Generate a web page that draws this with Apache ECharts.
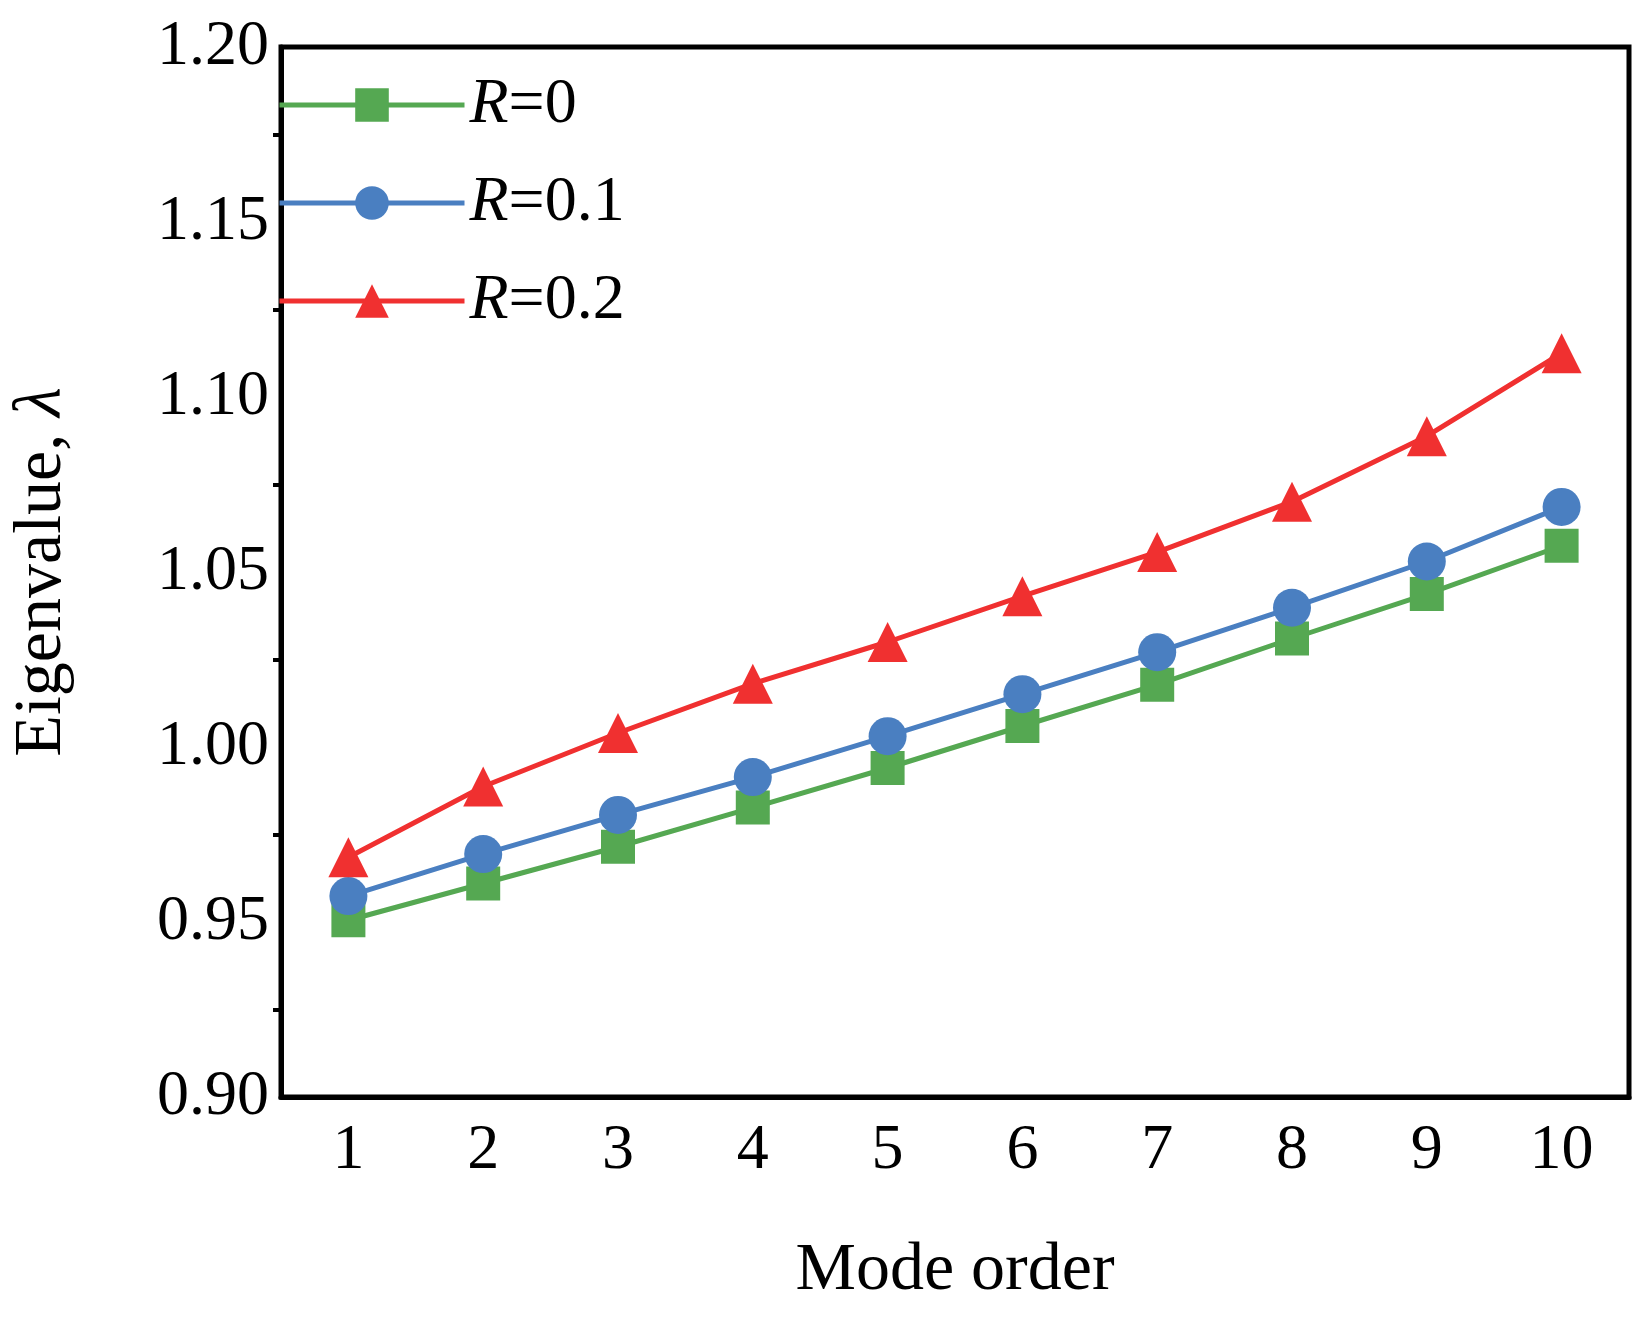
<!DOCTYPE html>
<html><head><meta charset="utf-8">
<script src="https://cdn.jsdelivr.net/npm/echarts@6/dist/echarts.min.js"></script>
<style>html,body{margin:0;background:#fff}#c{width:1649px;height:1341px}</style>
</head><body><div id="c"></div>
<script>
const categories = ['1','2','3','4','5','6','7','8','9','10'];
const r0 = [0.9505,0.961,0.9715,0.9827,0.994,1.006,1.0178,1.031,1.0437,1.0575];
const r01 = [0.9574,0.9694,0.9806,0.9914,1.0031,1.0151,1.0271,1.0398,1.053,1.0686];
const r02 = [0.9685,0.9887,1.004,1.0181,1.030,1.0431,1.0557,1.0701,1.0888,1.1125];
const names = ['R=0','R=0.1','R=0.2'];
const F = 'Liberation Serif';
const chart = echarts.init(document.getElementById('c'));
const mk = (name, data, color, symbol, size) => ({
  name, type:'line', data, symbol, symbolSize:size,
  lineStyle:{color, width:5}, itemStyle:{color}
});
chart.setOption({
  animation:false,
  grid:{left:252, right:20, top:47, bottom:244, show:true, borderColor:'#000', borderWidth:5},
  legend:{
    left:272, top:68, orient:'vertical', itemGap:34, itemWidth:185, itemHeight:42,
    data:names,
    lineStyle:{width:5},
    formatter: n => '{i|R}{t|' + n.slice(1) + '}',
    textStyle:{rich:{
      i:{fontFamily:F, fontStyle:'italic', fontSize:64, color:'#000'},
      t:{fontFamily:F, fontSize:64, color:'#000'}
    }}
  },
  xAxis:{
    type:'category', data:categories, boundaryGap:true,
    name:'Mode order', nameLocation:'middle', nameGap:140,
    nameTextStyle:{fontFamily:F, fontSize:68, color:'#000'},
    axisLine:{lineStyle:{color:'#000', width:5}},
    axisTick:{alignWithLabel:true, length:16, lineStyle:{width:4, color:'#000'}},
    axisLabel:{fontFamily:F, fontSize:64, color:'#000', margin:22}
  },
  yAxis:{
    type:'value', min:0.9, max:1.2, interval:0.05,
    name:'{n|Eigenvalue, }{l|λ}', nameLocation:'middle', nameGap:205,
    nameTextStyle:{fontFamily:F, fontSize:68, color:'#000',
      rich:{n:{fontFamily:F, fontSize:68, color:'#000'}, l:{fontFamily:F, fontStyle:'italic', fontSize:68, color:'#000'}}},
    axisLine:{show:true, lineStyle:{color:'#000', width:5}},
    axisTick:{inside:false, length:14, lineStyle:{width:4, color:'#000'}},
    minorTick:{show:true, splitNumber:2, length:8, lineStyle:{width:4, color:'#000'}},
    splitLine:{show:false},
    axisLabel:{fontFamily:F, fontSize:64, color:'#000', margin:12, formatter:v=>v.toFixed(2)}
  },
  series:[
    mk(names[0], r0, '#55a852', 'rect', 34),
    mk(names[1], r01, '#4a7fc1', 'circle', 38),
    mk(names[2], r02, '#f03030', 'triangle', 40)
  ]
});
</script></body></html>
